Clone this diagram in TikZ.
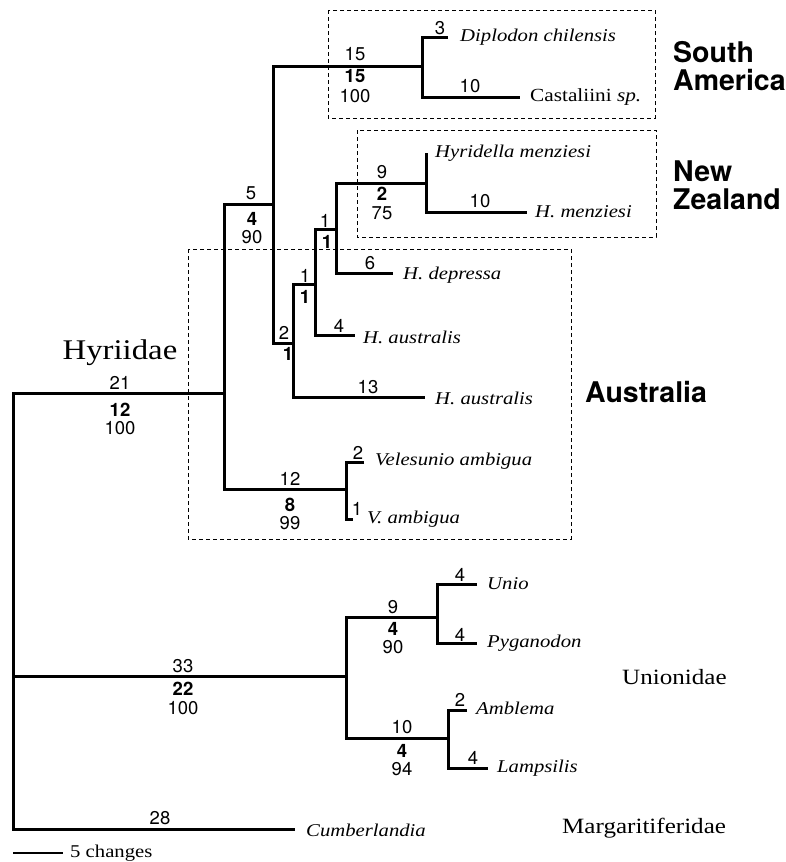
\documentclass[tikz,border=0pt]{standalone}
\usepackage{fontspec}
\setmainfont[FakeStretch=1.15]{Liberation Serif}
\setsansfont{TeX Gyre Heros}
\begin{document}
\begin{tikzpicture}[x=1pt,y=-1pt,
  br/.style={line width=3pt, line join=miter},
  regionbox/.style={line width=0.9pt, dash pattern=on 4pt off 3pt},
  nm/.style={font=\sffamily\fontsize{18.5}{18.5}\selectfont, inner sep=0pt},
  nb/.style={font=\sffamily\bfseries\fontsize{18.5}{18.5}\selectfont, inner sep=0pt},
  sp/.style={font=\itshape\fontsize{18}{18}\selectfont, anchor=west, inner sep=0pt},
  spu/.style={font=\fontsize{18.5}{18.5}\selectfont, anchor=west, inner sep=0pt},
  region/.style={font=\sffamily\bfseries\fontsize{28.5}{27.5}\selectfont, align=left, anchor=west, inner sep=0pt},
  fam/.style={font=\fontsize{21.8}{22}\selectfont, anchor=west, inner sep=0pt}]
\useasboundingbox (0,0) rectangle (786,862);
\fill[white] (0,0) rectangle (786,862);

% tree coordinates
\coordinate (r) at (13,393);
\coordinate (hy) at (224,393);
\coordinate (un) at (346,676);
\coordinate (cu) at (295,829);
\coordinate (A) at (273,204);
\coordinate (vel) at (346,489);
\coordinate (SA) at (422,66);
\coordinate (B) at (293,343);
\coordinate (C) at (315,284);
\coordinate (D) at (336,229);
\coordinate (NZ) at (426,183);
\coordinate (l13) at (425,397);
\coordinate (l4) at (355,335);
\coordinate (ldep) at (393,273);
\coordinate (lhyr) at (426,153);
\coordinate (lmen) at (527,212);
\coordinate (ldip) at (448,37);
\coordinate (lcas) at (520,97);
\coordinate (lvel) at (364,462);
\coordinate (lvam) at (353,519);
\coordinate (U1) at (437,617);
\coordinate (U2) at (448,738);
\coordinate (lunio) at (477,584);
\coordinate (lpyg) at (477,643);
\coordinate (lamb) at (467,710);
\coordinate (llam) at (488,768);
\coordinate (sb1) at (13,853);
\coordinate (sb2) at (63,853);

% dashed region boxes
\draw[regionbox] (328,10) rectangle (655,118);
\draw[regionbox] (357,130) rectangle (656,237);
\draw[regionbox] (188,249) rectangle (571,539);

% branches
\draw[br] (hy) -- (r |- hy) -- (r |- cu) -- (cu);
\draw[br] (r |- un) -- (un);
\draw[br] (A) -- (hy |- A) -- (hy |- vel) -- (vel);
\draw[br] (SA) -- (A |- SA) -- (A |- B) -- (B);
\draw[br] (ldip) -- (SA |- ldip) -- (SA |- lcas) -- (lcas);
\draw[br] (C) -- (B |- C) -- (B |- l13) -- (l13);
\draw[br] (D) -- (C |- D) -- (C |- l4) -- (l4);
\draw[br] (NZ) -- (D |- NZ) -- (D |- ldep) -- (ldep);
\draw[br] (lhyr) -- (NZ |- lmen) -- (lmen);
\draw[br] (lvel) -- (vel |- lvel) -- (vel |- lvam) -- (lvam);
\draw[br] (U1) -- (un |- U1) -- (un |- U2) -- (U2);
\draw[br] (lunio) -- (U1 |- lunio) -- (U1 |- lpyg) -- (lpyg);
\draw[br] (lamb) -- (U2 |- lamb) -- (U2 |- llam) -- (llam);
\draw[line width=1.6pt] (sb1) -- (sb2);

% branch labels
\node[nm] (t21) at (120,383) {21};
\node[nb] (t12) at (120,410) {12};
\node[nm] (t100a) at (120,428) {100};
\node[font=\fontsize{28.5}{28.5}\selectfont, inner sep=0pt] (hyr) at (120,353) {Hyriidae};
\node[nm] (t5) at (251,193) {5};
\node[nb] (t4a) at (252,219) {4};
\node[nm] (t90a) at (252,237) {90};
\node[nm] (t15) at (355,54) {15};
\node[nb] (t15b) at (355,76) {15};
\node[nm] (t100b) at (355,96) {100};
\node[nm] (t3) at (440,28) {3};
\node[nm] (t10a) at (470,86) {10};
\node[nm] (t9a) at (382,172) {9};
\node[nb] (t2a) at (382,194) {2};
\node[nm] (t75) at (382,213) {75};
\node[nm] (t10b) at (480,201) {10};
\node[nm] (t1a) at (325,221) {1};
\node[nb] (t1b) at (327,242) {1};
\node[nm] (t6) at (370,263) {6};
\node[nm] (t1c) at (305,276) {1};
\node[nb] (t1d) at (305,297) {1};
\node[nm] (t4b) at (339,326) {4};
\node[nm] (t2b) at (284,333) {2};
\node[nb] (t1e) at (288,354) {1};
\node[nm] (t13) at (368,387) {13};
\node[nm] (t12b) at (290,479) {12};
\node[nb] (t8) at (290,505) {8};
\node[nm] (t99) at (290,523) {99};
\node[nm] (t2c) at (358,453) {2};
\node[nm] (t1f) at (357,509) {1};
\node[nm] (t33) at (183,666) {33};
\node[nb] (t22) at (183,689) {22};
\node[nm] (t100c) at (183,708) {100};
\node[nm] (t9b) at (393,607) {9};
\node[nb] (t4c) at (393,629) {4};
\node[nm] (t90b) at (393,647) {90};
\node[nm] (t4d) at (460,575) {4};
\node[nm] (t4e) at (460,635) {4};
\node[nm] (t10c) at (402,727) {10};
\node[nb] (t4f) at (402,751) {4};
\node[nm] (t94) at (402,769) {94};
\node[nm] (t2d) at (460,700) {2};
\node[nm] (t4g) at (473,758) {4};
\node[nm] (t28) at (160,818) {28};

% taxa
\node[sp] (xdip) at (460,37) {Diplodon chilensis};
\node[spu] (xcas) at (530,97) {Castaliini \textit{sp.}};
\node[sp] (xhyr) at (435,153) {Hyridella menziesi};
\node[sp] (xmen) at (535,212) {H. menziesi};
\node[sp] (xdep) at (403,275) {H. depressa};
\node[sp] (xaus1) at (363,337) {H. australis};
\node[sp] (xaus2) at (435,398) {H. australis};
\node[sp] (xvel) at (375,461) {Velesunio ambigua};
\node[sp] (xvam) at (367,519) {V. ambigua};
\node[sp] (xunio) at (487,584) {Unio};
\node[sp] (xpyg) at (487,643) {Pyganodon};
\node[sp] (xamb) at (476,708) {Amblema};
\node[sp] (xlam) at (497,768) {Lampsilis};
\node[sp] (xcum) at (306,830) {Cumberlandia};
\node[font=\fontsize{18}{18}\selectfont, anchor=west, inner sep=0pt] (xsb) at (70,853) {5 changes};

% regions and families
\node[region] (rsa) at (673,66) {South\\America};
\node[region] (rnz) at (673,185) {New\\Zealand};
\node[region] (rau) at (585,392) {Australia};
\node[fam] (fun) at (622,677) {Unionidae};
\node[fam] (fma) at (562,828) {Margaritiferidae};
\end{tikzpicture}
\end{document}
